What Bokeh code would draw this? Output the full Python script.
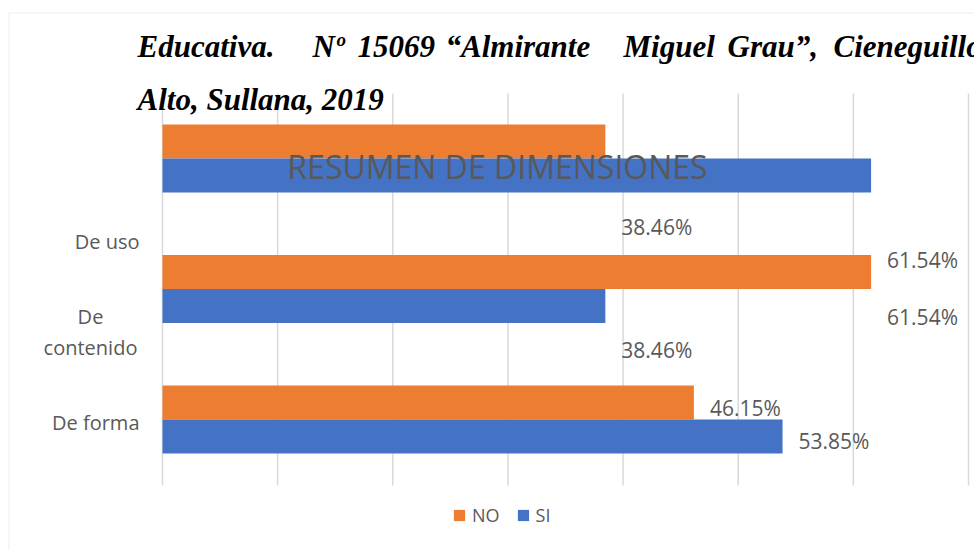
from bokeh.plotting import figure
from bokeh.models import (ColumnDataSource, Range1d, FixedTicker, Label, Legend,
                          LegendItem, BoxAnnotation)
from bokeh.transform import dodge
from bokeh.core.properties import value
from bokeh.embed import file_html
from bokeh.resources import INLINE

# ---------------- data ----------------
categories = ["De forma", "De contenido", "De uso"]
no_vals = [46.15, 61.54, 38.46]
si_vals = [53.85, 38.46, 61.54]
x_ticks = [0, 10, 20, 30, 40, 50, 60, 70]
series_names = ["NO", "SI"]
chart_title = "RESUMEN DE DIMENSIONES"
doc_line1 = ["Educativa.", "Nº", "15069", "“Almirante", "Miguel", "Grau”,", "Cieneguillo"]
doc_line2 = "Alto, Sullana, 2019"
cat_display = ["De forma", "De\ncontenido", "De uso"]

# ---------------- layout / style ----------------
W, H = 974, 550
ORANGE = "#ED7D31"
BLUE = "#4472C4"
GREY_TXT = "#595959"
GRID = "#D9D9D9"
FONT = "Open Sans"
PX_PER_X = 806 / 70            # plot area 806 px wide for 0..70 %
X0_PX = 162                    # canvas x of value 0
BAR0_PX, BAR_STEP = 419, 130.5  # canvas y of first category, px per category (bars)
TXT0_PX, TXT_STEP = 422, 90.5   # same for the text layer
PLOT_TOP_PX, PLOT_BOT_PX = 93, 485

def dx(px):
    return (px - X0_PX) / PX_PER_X

def dy(py):
    return (BAR0_PX - py) / BAR_STEP

idx = list(range(len(categories)))
src = ColumnDataSource(dict(
    idx=idx,
    no=no_vals,
    si=si_vals,
    no_lbl=[f"{v:.2f}%" for v in no_vals],
    si_lbl=[f"{v:.2f}%" for v in si_vals],
    cat_lbl=cat_display,
    cat_align=["center" if "\n" in c else "right" for c in cat_display],
    cat_xoff=[-72 if "\n" in c else -23 for c in cat_display],
))

p = figure(width=W, height=H, output_backend="svg", toolbar_location=None,
           x_range=Range1d(dx(0), dx(W)), y_range=Range1d(dy(H), dy(0)),
           x_axis_location=None, y_axis_location=None,
           min_border=0, min_border_left=0, min_border_right=0,
           min_border_top=0, min_border_bottom=0,
           background_fill_color="white", border_fill_color="white")
p.outline_line_color = None
p.grid.visible = False

# text layer (labels are laid out on a tighter spacing than the bars)
p.extra_y_ranges = {"txt": Range1d(-(H - TXT0_PX) / TXT_STEP, TXT0_PX / TXT_STEP)}

# vertical gridlines limited to the plot area
p.segment(x0=x_ticks, x1=x_ticks, y0=dy(PLOT_BOT_PX), y1=dy(PLOT_TOP_PX),
          line_color=GRID, line_width=1.5)

r_no = p.hbar(y=dodge("idx", 0.13), left=0, right="no", height=0.26,
              source=src, fill_color=ORANGE, line_color=None)
r_si = p.hbar(y=dodge("idx", -0.13), left=0, right="si", height=0.26,
              source=src, fill_color=BLUE, line_color=None)

p.text(x="no", y="idx", text="no_lbl", source=src, y_range_name="txt",
       x_offset=16, y_offset=-15, text_align="left", text_baseline="middle",
       text_font=value(FONT), text_font_size="21px", text_color=GREY_TXT)
p.text(x="si", y="idx", text="si_lbl", source=src, y_range_name="txt",
       x_offset=16, y_offset=18, text_align="left", text_baseline="middle",
       text_font=value(FONT), text_font_size="21px", text_color=GREY_TXT)

# category labels
p.text(x=0, y="idx", text="cat_lbl", source=src, y_range_name="txt",
       x_offset="cat_xoff", text_align="cat_align", text_baseline="middle",
       text_font=value(FONT), text_font_size="20px", text_color=GREY_TXT,
       text_line_height=1.17)

# chart title drawn over the bars
p.add_layout(Label(x=dx(497), y=dy(166), text=chart_title, text_align="center",
                   text_baseline="middle", text_font=FONT, text_font_size="32px",
                   text_color=GREY_TXT))

# document text overlapping the chart
word_x = [137, 312, 357, 445, 623, 727, 833]
for wx, w in zip(word_x, doc_line1):
    p.add_layout(Label(x=dx(wx), y=dy(46), text=w, text_align="left",
                       text_baseline="alphabetic", text_font="Liberation Serif",
                       text_font_style="bold italic", text_font_size="31px",
                       text_color="black"))
p.add_layout(Label(x=dx(137), y=dy(99), text=doc_line2, text_align="left",
                   text_baseline="alphabetic", text_font="Liberation Serif",
                   text_font_style="bold italic", text_font_size="31px",
                   text_color="black"))

# legend
legend = Legend(items=[LegendItem(label=series_names[0], renderers=[r_no]),
                       LegendItem(label=series_names[1], renderers=[r_si])],
                orientation="horizontal", location=(452, H - 527),
                glyph_width=14, glyph_height=14, label_height=14,
                label_standoff=6, spacing=16, padding=0, margin=0,
                border_line_color=None, background_fill_alpha=0,
                label_text_font=FONT, label_text_font_size="18px",
                label_text_color=GREY_TXT)
p.add_layout(legend, "center")

# chart area border (top and left visible, the rest runs off the page)
p.add_layout(BoxAnnotation(left=dx(8.5), right=dx(W + 20), top=dy(12.5), bottom=dy(H + 20),
                           fill_alpha=0, line_color=GRID, line_width=1.5))

open("out.html", "w").write(file_html(p, INLINE))
